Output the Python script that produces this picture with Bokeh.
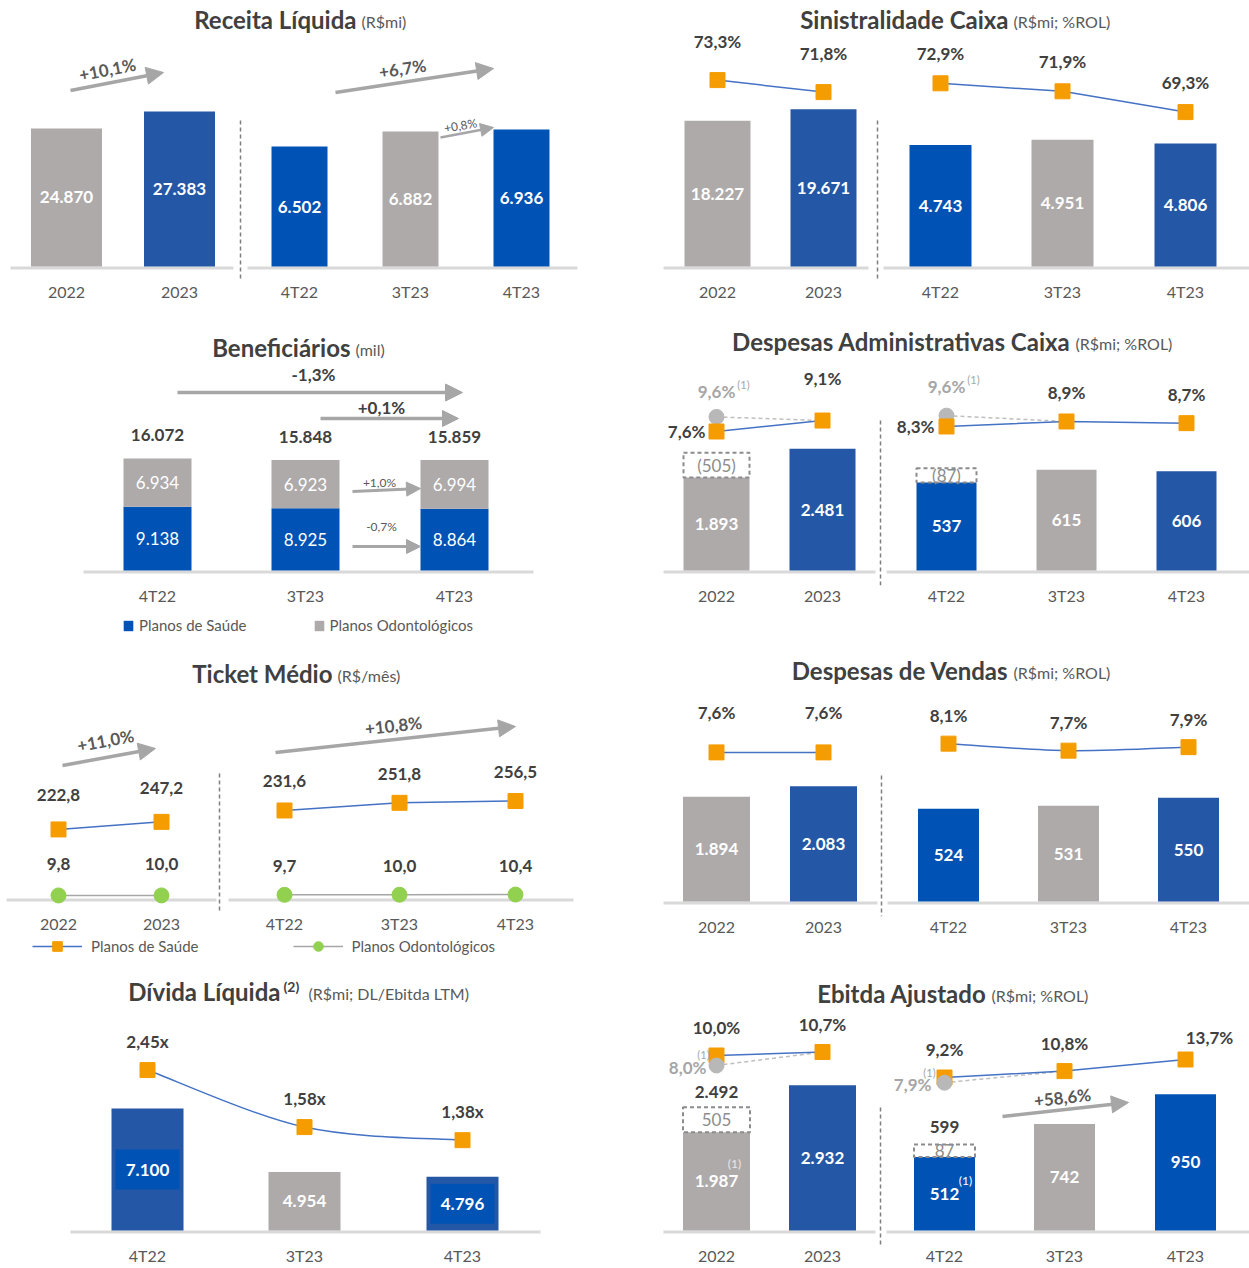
import math
from bokeh.plotting import figure
from bokeh.layouts import column, row
from bokeh.models import (Range1d, FixedTicker, Label, Arrow, NormalHead, Legend,
                          LegendItem, ColumnDataSource)
from bokeh.embed import file_html
from bokeh.resources import INLINE
from bokeh.core.properties import value

# ------------------------------------------------------------------ data
ANOS = ["2022", "2023"]
TRIMESTRES = ["4T22", "3T23", "4T23"]

receita_anual = [24870, 27383]
receita_trim = [6502, 6882, 6936]
receita_var = ["+10,1%", "+6,7%", "+0,8%"]

sinistro_anual = [18227, 19671]
sinistro_trim = [4743, 4951, 4806]
sinistro_pct_anual = [73.3, 71.8]
sinistro_pct_trim = [72.9, 71.9, 69.3]

benef_saude = [9138, 8925, 8864]
benef_odonto = [6934, 6923, 6994]
benef_total = [16072, 15848, 15859]
benef_var = ["-1,3%", "+0,1%", "+1,0%", "-0,7%"]
benef_series = ["Planos de Saúde", "Planos Odontológicos"]

adm_anual = [1893, 2481]
adm_trim = [537, 615, 606]
adm_ajuste_anual = [505]
adm_ajuste_trim = [87]
adm_pct_anual = [7.6, 9.1]
adm_pct_trim = [8.3, 8.9, 8.7]
adm_pct_ajust_anual = [9.6]
adm_pct_ajust_trim = [9.6]

ticket_saude_anual = [222.8, 247.2]
ticket_saude_trim = [231.6, 251.8, 256.5]
ticket_odonto_anual = [9.8, 10.0]
ticket_odonto_trim = [9.7, 10.0, 10.4]
ticket_var = ["+11,0%", "+10,8%"]

vendas_anual = [1894, 2083]
vendas_trim = [524, 531, 550]
vendas_pct_anual = [7.6, 7.6]
vendas_pct_trim = [8.1, 7.7, 7.9]

divida = [7100, 4954, 4796]
divida_alavancagem = [2.45, 1.58, 1.38]

ebitda_anual = [1987, 2932]
ebitda_trim = [512, 742, 950]
ebitda_ajuste_anual = [505]
ebitda_ajuste_trim = [87]
ebitda_total_ajust_anual = [2492]
ebitda_total_ajust_trim = [599]
ebitda_pct_anual = [10.0, 10.7]
ebitda_pct_trim = [9.2, 10.8, 13.7]
ebitda_pct_ajust_anual = [8.0]
ebitda_pct_ajust_trim = [7.9]
ebitda_var = ["+58,6%"]

# ------------------------------------------------------------------ style
FONT = "Lato"
C_DARK = "#404040"
C_AXIS = "#595959"
C_GRAY = "#aeaaaa"
C_BLUE_D = "#2457a5"
C_BLUE_B = "#0052b4"
C_ORANGE = "#f59c00"
C_LINE = "#4472c4"
C_BASE = "#d9d9d9"
C_GREEN = "#92d050"
C_ARROW = "#a6a6a6"
C_DOT = "#b8b8b8"
C_DIV = "#7f7f7f"
C_ADJ = "#8c8c8c"
C_LBLGRAY = "#a6a6a6"
LBL = 17   # bold data label size


def fmt_int(v):
    return f"{v:,.0f}".replace(",", ".")


def fmt_dec(v, d=1):
    return f"{v:.{d}f}".replace(".", ",")


def fmt_pct(v):
    return fmt_dec(v) + "%"


class Panel:
    def __init__(self, x0, top, w, h, base_ref, shift=0, b=15):
        self.x0 = x0
        self.base_ref = base_ref
        self.b = b
        self.fh = base_ref + shift - top + b
        self.v0 = {"default": 0}
        p = figure(width=w, height=h, x_range=Range1d(0, w),
                   y_range=Range1d(-b, self.fh - b),
                   output_backend="svg", toolbar_location=None, y_axis_location=None,
                   min_border_left=0, min_border_right=0, min_border_top=0,
                   min_border_bottom=h - self.fh, outline_line_color=None,
                   background_fill_color="white", border_fill_color="white")
        p.grid.grid_line_color = None
        self.p = p

    def X(self, xs):
        return [x - self.x0 for x in xs]

    def fy(self, y):
        return self.base_ref - y

    def scale(self, name, v0, k):
        self.v0[name] = v0
        self.p.extra_y_ranges[name] = Range1d(start=v0 - self.b / k,
                                              end=v0 + (self.fh - self.b) / k)

    def mid(self, vals, rname):
        return [(v + self.v0[rname]) / 2 for v in vals]

    def axis(self, xs, labels):
        ticks = self.X(xs)
        ov = {}
        for t, l in zip(ticks, labels):
            ov[t] = l
            ov[str(t)] = l
        ax = self.p.xaxis[0]
        ax.ticker = FixedTicker(ticks=ticks)
        ax.major_label_overrides = ov
        ax.axis_line_color = None
        ax.major_tick_line_color = None
        ax.minor_tick_line_color = None
        ax.major_tick_out = 0
        ax.major_tick_in = 0
        ax.minor_tick_out = 0
        ax.major_label_standoff = 0
        ax.major_label_text_font = FONT
        ax.major_label_text_font_size = "16px"
        ax.major_label_text_color = C_AXIS

    def baselines(self, spans):
        n = len(spans)
        self.p.segment(x0=self.X([a for a, _ in spans]), y0=[-1.5] * n,
                       x1=self.X([c for _, c in spans]), y1=[-1.5] * n,
                       line_color=C_BASE, line_width=3)

    def divider(self, x, top):
        self.p.segment(x0=self.X([x]), y0=[self.fy(top)], x1=self.X([x]), y1=[-self.b],
                       line_color=C_DIV, line_width=1.5, line_dash="4 3")

    def bars(self, xs, vals, width, colors, rname):
        src = ColumnDataSource(dict(x=self.X(xs), top=vals, c=colors))
        return self.p.vbar(x="x", top="top", bottom=self.v0[rname], width=width,
                           fill_color="c", line_color=None, source=src, y_range_name=rname)

    def adj_box(self, xs, base, extra, width, rname, labels):
        tops = [a + e for a, e in zip(base, extra)]
        self.p.vbar(x=self.X(xs), bottom=base, top=tops, width=width, fill_color=None,
                    line_color=C_ADJ, line_width=2, line_dash="4 3", y_range_name=rname)
        self.text(xs, [(a + t) / 2 for a, t in zip(base, tops)], labels, rname,
                  size=17, color="#8c8c8c", bold=False)

    def text(self, xs, ys, texts, rname="default", size=LBL, color=C_DARK, bold=True,
             align="center", dx=0, dy=0):
        src = ColumnDataSource(dict(x=self.X(xs), y=list(ys), t=list(texts)))
        self.p.text(x="x", y="y", text="t", source=src, y_range_name=rname,
                    text_font=value(FONT), text_font_size=f"{size}px",
                    text_font_style="bold" if bold else "normal", text_color=color,
                    text_align=align, text_baseline="middle", x_offset=dx, y_offset=dy)

    def bar_labels(self, xs, vals, rname, bold=True):
        self.text(xs, self.mid(vals, rname), [fmt_int(v) for v in vals], rname,
                  color="white", bold=bold)

    def series(self, xs, vals, rname, marker="square", color=C_ORANGE, line_color=C_LINE):
        lr = self.p.line(self.X(xs), vals, y_range_name=rname, line_color=line_color,
                         line_width=1.5)
        sr = self.p.scatter(self.X(xs), vals, y_range_name=rname, marker=marker, size=15,
                            fill_color=color, line_color=color)
        return lr, sr

    def dots(self, xs, vals, rname):
        self.p.scatter(self.X(xs), vals, y_range_name=rname, size=15,
                       fill_color=C_DOT, line_color=C_DOT)

    def arrow(self, x0, y0, x1, y1, width=3.5, head=17):
        self.p.add_layout(Arrow(x_start=x0 - self.x0, y_start=self.fy(y0),
                                x_end=x1 - self.x0, y_end=self.fy(y1),
                                line_color=C_ARROW, line_width=width,
                                end=NormalHead(size=head, fill_color=C_ARROW,
                                               line_color=C_ARROW)))

    def note(self, x, y, txt, angle_deg=0, size=17, bold=True, color=C_AXIS):
        self.p.add_layout(Label(x=x - self.x0, y=self.fy(y), text=txt,
                                angle=math.radians(angle_deg), text_align="center",
                                text_baseline="middle", text_font=FONT,
                                text_font_size=f"{size}px",
                                text_font_style="bold" if bold else "normal",
                                text_color=color))

    def title(self, split, y, bold_txt, normal_txt, sup=None):
        self.p.add_layout(Label(x=split - 2 - self.x0, y=self.fy(y), text=bold_txt,
                                text_align="right", text_baseline="middle", text_font=FONT,
                                text_font_size="24px", text_font_style="bold",
                                text_color=C_DARK))
        nx = split + 3
        if sup is not None:
            self.p.add_layout(Label(x=split + 1 - self.x0, y=self.fy(y - 5), text=sup,
                                    text_align="left", text_baseline="middle",
                                    text_font=FONT, text_font_size="14px",
                                    text_font_style="bold", text_color=C_DARK))
            nx = split + 26
        self.p.add_layout(Label(x=nx - self.x0, y=self.fy(y + 2), text=normal_txt,
                                text_align="left", text_baseline="middle", text_font=FONT,
                                text_font_size="16px", text_color=C_AXIS))


def legend_fig(w, h, entries, x, y, glyph_w, glyph_h, standoff, spacing):
    # key glyphs sit outside the visible range; only the legend shows them
    lf = figure(width=w, height=h, x_range=Range1d(0, 1), y_range=Range1d(0, 1),
                output_backend="svg", toolbar_location=None, x_axis_location=None,
                y_axis_location=None, min_border=0, outline_line_color=None,
                background_fill_color="white", border_fill_color="white")
    lf.grid.grid_line_color = None
    items = [LegendItem(label=lab, renderers=make(lf)) for lab, make in entries]
    lf.add_layout(Legend(items=items, orientation="horizontal", location=(x, y),
                         glyph_width=glyph_w, glyph_height=glyph_h, label_height=glyph_h,
                         label_standoff=standoff, spacing=spacing, padding=0, margin=0,
                         border_line_color=None, background_fill_alpha=0,
                         label_text_font=FONT, label_text_font_size="15px",
                         label_text_color=C_AXIS))
    return lf


def smooth(p, xs, ys, rname):
    pts = list(zip(xs, ys))
    n = len(pts)
    seg = dict(x0=[], y0=[], x1=[], y1=[], cx0=[], cy0=[], cx1=[], cy1=[])
    for i in range(n - 1):
        pm = pts[i - 1] if i > 0 else pts[i]
        a, c = pts[i], pts[i + 1]
        pn = pts[i + 2] if i + 2 < n else pts[i + 1]
        seg["x0"].append(a[0]); seg["y0"].append(a[1])
        seg["x1"].append(c[0]); seg["y1"].append(c[1])
        seg["cx0"].append(a[0] + (c[0] - pm[0]) / 6); seg["cy0"].append(a[1] + (c[1] - pm[1]) / 6)
        seg["cx1"].append(c[0] - (pn[0] - a[0]) / 6); seg["cy1"].append(c[1] - (pn[1] - a[1]) / 6)
    p.bezier(source=ColumnDataSource(seg), x0="x0", y0="y0", x1="x1", y1="y1",
             cx0="cx0", cy0="cy0", cx1="cx1", cy1="cy1", y_range_name=rname,
             line_color=C_LINE, line_width=1.5)


X_L, X_R = 0, 624
W_L, W_R = 624, 625
ROW_T = [0, 318, 650, 970]
ROW_H = [318, 332, 320, 298]
LEG3_H, LEG5_H = 40, 34
SHIFT4 = -6
OFF = [5, 6]   # legend key glyphs placed outside the visible range

# ------------------------------------------------ 1. Receita Liquida
P1 = Panel(X_L, ROW_T[0], W_L, ROW_H[0], 266)
P1.scale("a", 4470, 0.00677)
P1.scale("q", 3441, 0.0392)
xa, xq = [66, 179], [299, 410, 521]
P1.baselines([(10, 233), (247, 577)])
P1.divider(240, 120)
P1.bars(xa, receita_anual, 71, [C_GRAY, C_BLUE_D], "a")
P1.bars(xq, receita_trim, 56, [C_BLUE_B, C_GRAY, C_BLUE_B], "q")
P1.bar_labels(xa, receita_anual, "a")
P1.bar_labels(xq, receita_trim, "q")
P1.arrow(70, 90, 163, 72)
P1.note(107, 69, receita_var[0], 11)
P1.arrow(335, 92, 493, 68)
P1.note(402, 68, receita_var[1], 8.6)
P1.arrow(440, 137, 493, 127, width=2.5, head=13)
P1.note(460, 125, receita_var[2], 10, size=12, bold=False)
P1.axis(xa + xq, ANOS + TRIMESTRES)
P1.title(358, 19, "Receita Líquida", "(R$mi)")

# ------------------------------------------------ 2. Sinistralidade
P2 = Panel(X_R, ROW_T[0], W_R, ROW_H[0], 266)
P2.scale("a", 0, 0.008)
P2.scale("q", 0, 0.0256)
P2.scale("l", 50, 8)
xa, xq = [717, 823], [940, 1062, 1185]
P2.baselines([(663, 868), (883, 1249)])
P2.divider(877, 120)
P2.bars(xa, sinistro_anual, 66, [C_GRAY, C_BLUE_D], "a")
P2.bars(xq, sinistro_trim, 62, [C_BLUE_B, C_GRAY, C_BLUE_D], "q")
P2.bar_labels(xa, sinistro_anual, "a")
P2.bar_labels(xq, sinistro_trim, "q")
P2.series(xa, sinistro_pct_anual, "l")
P2.series(xq, sinistro_pct_trim, "l")
P2.text(xa, sinistro_pct_anual, [fmt_pct(v) for v in sinistro_pct_anual], "l", dy=-39)
P2.text(xq, sinistro_pct_trim, [fmt_pct(v) for v in sinistro_pct_trim], "l", dy=-30)
P2.axis(xa + xq, ANOS + TRIMESTRES)
P2.title(1010, 19, "Sinistralidade Caixa", "(R$mi; %ROL)")

# ------------------------------------------------ 3. Beneficiarios
P3 = Panel(X_L, ROW_T[1], W_L, ROW_H[1] - LEG3_H, 570)
P3.scale("s", 0, 0.00697)
xs = [157, 305, 454]
P3.baselines([(83, 533)])
src3 = ColumnDataSource(dict(x=P3.X(xs), saude=benef_saude, odonto=benef_odonto))
rs = P3.p.vbar_stack(["saude", "odonto"], x="x", width=68, fill_color=[C_BLUE_B, C_GRAY],
                     line_color=None, source=src3, y_range_name="s")
P3.text(xs, [v / 2 for v in benef_saude], [fmt_int(v) for v in benef_saude], "s",
        size=17, color="white", bold=False)
P3.text(xs, [s + o / 2 for s, o in zip(benef_saude, benef_odonto)],
        [fmt_int(v) for v in benef_odonto], "s", size=17, color="white", bold=False)
P3.text(xs, benef_total, [fmt_int(v) for v in benef_total], "s", dy=-23)
P3.arrow(177, 392, 462, 392)
P3.note(313, 374, benef_var[0], color=C_DARK)
P3.arrow(320, 418, 458, 418, head=16)
P3.note(381, 407, benef_var[1], color=C_DARK)
P3.arrow(352, 491, 420, 488, width=3, head=14)
P3.note(379, 482, benef_var[2], size=12, bold=False)
P3.arrow(352, 546, 420, 546, width=3, head=14)
P3.note(381, 526, benef_var[3], size=12, bold=False)
P3.axis(xs, TRIMESTRES)
P3.title(352, 347, "Beneficiários", "(mil)")
L3 = legend_fig(W_L, LEG3_H, [
    (benef_series[0], lambda f: [f.vbar(x=OFF[:1], top=OFF[1:], width=0.5,
                                        fill_color=C_BLUE_B, line_color=None)]),
    (benef_series[1], lambda f: [f.vbar(x=OFF[:1], top=OFF[1:], width=0.5,
                                        fill_color=C_GRAY, line_color=None)]),
], x=122, y=16, glyph_w=12, glyph_h=13, standoff=5, spacing=66)

# ------------------------------------------------ 4. Despesas Administrativas
P4 = Panel(X_R, ROW_T[1], W_R, ROW_H[1], 570)
P4.scale("a", 0, 0.0491)
P4.scale("q", 0, 0.1639)
P4.scale("la", -11.44, 7.3)
P4.scale("lq", -8.99, 8.33)
xa, xq = [716, 822], [946, 1066, 1186]
P4.baselines([(663, 875), (886, 1249)])
P4.divider(880, 420)
P4.bars(xa, adm_anual, 66, [C_GRAY, C_BLUE_D], "a")
P4.bars(xq, adm_trim, 60, [C_BLUE_B, C_GRAY, C_BLUE_D], "q")
P4.bar_labels(xa, adm_anual, "a")
P4.bar_labels(xq, adm_trim, "q")
P4.adj_box(xa[:1], adm_anual[:1], adm_ajuste_anual, 66, "a",
           [f"({fmt_int(v)})" for v in adm_ajuste_anual])
P4.adj_box(xq[:1], adm_trim[:1], adm_ajuste_trim, 60, "q",
           [f"({fmt_int(v)})" for v in adm_ajuste_trim])
P4.p.line(P4.X(xa), [adm_pct_ajust_anual[0], adm_pct_anual[1]], y_range_name="la",
          line_color="#bfbfbf", line_width=1.5, line_dash="4 3")
P4.p.line(P4.X(xq[:2]), [adm_pct_ajust_trim[0], adm_pct_trim[1]], y_range_name="lq",
          line_color="#bfbfbf", line_width=1.5, line_dash="4 3")
P4.dots(xa[:1], adm_pct_ajust_anual, "la")
P4.dots(xq[:1], adm_pct_ajust_trim, "lq")
P4.series(xa, adm_pct_anual, "la")
P4.series(xq, adm_pct_trim, "lq")
P4.text(xa[1:], adm_pct_anual[1:], [fmt_pct(v) for v in adm_pct_anual[1:]], "la", dy=-42)
P4.text(xq[1:], adm_pct_trim[1:], [fmt_pct(v) for v in adm_pct_trim[1:]], "lq", dy=-29)
P4.text(xa[:1], adm_pct_anual[:1], [fmt_pct(adm_pct_anual[0])], "la", align="right", dx=-11)
P4.text(xq[:1], adm_pct_trim[:1], [fmt_pct(adm_pct_trim[0])], "lq", align="right", dx=-12)
P4.text(xa[:1], adm_pct_ajust_anual, [fmt_pct(v) for v in adm_pct_ajust_anual], "la",
        color=C_LBLGRAY, dy=-25)
P4.text(xa[:1], adm_pct_ajust_anual, ["(1)"], "la", size=11, bold=False, color=C_LBLGRAY,
        dx=27, dy=-32)
P4.text(xq[:1], adm_pct_ajust_trim, [fmt_pct(v) for v in adm_pct_ajust_trim], "lq",
        color=C_LBLGRAY, dy=-29)
P4.text(xq[:1], adm_pct_ajust_trim, ["(1)"], "lq", size=11, bold=False, color=C_LBLGRAY,
        dx=27, dy=-36)
P4.axis(xa + xq, ANOS + TRIMESTRES)
P4.title(1072, 341, "Despesas Administrativas Caixa", "(R$mi; %ROL)")

# ------------------------------------------------ 5. Ticket Medio
P5 = Panel(X_L, ROW_T[2], W_L, ROW_H[2] - LEG5_H, 898)
P5.scale("la", 0, 0.31)
P5.scale("lq", 0, 0.38)
xa, xq = [58, 161], [284, 399, 515]
P5.baselines([(6, 216), (228, 573)])
P5.divider(219, 773)
P5.series(xa, ticket_odonto_anual, "la", marker="circle", color=C_GREEN, line_color=C_ARROW)
P5.series(xq, ticket_odonto_trim, "lq", marker="circle", color=C_GREEN, line_color=C_ARROW)
P5.series(xa, ticket_saude_anual, "la")
P5.series(xq, ticket_saude_trim, "lq")
P5.text(xa, ticket_saude_anual, [fmt_dec(v) for v in ticket_saude_anual], "la", dy=-34)
P5.text(xq, ticket_saude_trim, [fmt_dec(v) for v in ticket_saude_trim], "lq", dy=-29)
P5.text(xa, ticket_odonto_anual, [fmt_dec(v) for v in ticket_odonto_anual], "la", dy=-31)
P5.text(xq, ticket_odonto_trim, [fmt_dec(v) for v in ticket_odonto_trim], "lq", dy=-29)
P5.arrow(62, 765, 155, 748)
P5.note(105, 740, ticket_var[0], 10.4)
P5.arrow(275, 752, 515, 726)
P5.note(393, 725, ticket_var[1], 6.2)
P5.axis(xa + xq, ANOS + TRIMESTRES)
P5.title(334, 673, "Ticket Médio", "(R$/mês)")
L5 = legend_fig(W_L, LEG5_H, [
    (benef_series[0], lambda f: [f.line(OFF, OFF, line_color=C_LINE, line_width=1.5),
                                 f.scatter(OFF, OFF, marker="square", size=15,
                                           fill_color=C_ORANGE, line_color=C_ORANGE)]),
    (benef_series[1], lambda f: [f.line(OFF, OFF, line_color=C_ARROW, line_width=1.5),
                                 f.scatter(OFF, OFF, marker="circle", size=15,
                                           fill_color=C_GREEN, line_color=C_GREEN)]),
], x=32, y=12, glyph_w=50, glyph_h=24, standoff=9, spacing=94)

# ------------------------------------------------ 6. Despesas de Vendas
P6 = Panel(X_R, ROW_T[2], W_R, ROW_H[2], 901)
P6.scale("a", 0, 0.0553)
P6.scale("q", 303, 0.42)
P6.scale("l", -0.92, 17.5)
xa, xq = [716, 823], [948, 1068, 1188]
P6.baselines([(663, 877), (887, 1249)])
P6.divider(881, 775)
P6.bars(xa, vendas_anual, 67, [C_GRAY, C_BLUE_D], "a")
P6.bars(xq, vendas_trim, 61, [C_BLUE_B, C_GRAY, C_BLUE_D], "q")
P6.bar_labels(xa, vendas_anual, "a")
P6.bar_labels(xq, vendas_trim, "q")
P6.series(xa, vendas_pct_anual, "l")
smooth(P6.p, P6.X(xq), vendas_pct_trim, "l")
P6.p.scatter(P6.X(xq), vendas_pct_trim, y_range_name="l", marker="square", size=15,
             fill_color=C_ORANGE, line_color=C_ORANGE)
P6.text(xa, vendas_pct_anual, [fmt_pct(v) for v in vendas_pct_anual], "l", dy=-40)
P6.text(xq, vendas_pct_trim, [fmt_pct(v) for v in vendas_pct_trim], "l", dy=-28)
P6.axis(xa + xq, ANOS + TRIMESTRES)
P6.title(1010, 670, "Despesas de Vendas", "(R$mi; %ROL)")

# ------------------------------------------------ 7. Divida Liquida
P7 = Panel(X_L, ROW_T[3], W_L, ROW_H[3], 1238, shift=SHIFT4)
P7.scale("d", 2972, 0.0298)
P7.scale("l", 0, 66)
xs = [147, 304, 462]
BOXED = [0, 2]
P7.baselines([(70, 540)])
P7.bars(xs, divida, 72, [C_BLUE_D, C_GRAY, C_BLUE_D], "d")
mids = P7.mid(divida, "d")
P7.p.rect(x=P7.X([xs[i] for i in BOXED]), y=[mids[i] for i in BOXED], width=64, height=40,
          width_units="screen", height_units="screen", fill_color=C_BLUE_B, line_color=None,
          y_range_name="d")
P7.bar_labels(xs, divida, "d")
smooth(P7.p, P7.X(xs), divida_alavancagem, "l")
P7.p.scatter(P7.X(xs), divida_alavancagem, y_range_name="l", marker="square", size=15,
             fill_color=C_ORANGE, line_color=C_ORANGE)
P7.text(xs, divida_alavancagem, [fmt_dec(v, 2) + "x" for v in divida_alavancagem], "l",
        dy=-29)
P7.axis(xs, TRIMESTRES)
P7.title(282, 997, "Dívida Líquida", "(R$mi; DL/Ebitda LTM)", sup="(2)")

# ------------------------------------------------ 8. Ebitda Ajustado
P8 = Panel(X_R, ROW_T[3], W_R, ROW_H[3], 1236, shift=SHIFT4)
P8.scale("a", 0, 0.0495)
P8.scale("q", 0, 0.1435)
P8.scale("la", -25, 5)
P8.scale("lq", -29.05, 4)
xa, xq = [716, 822], [944, 1064, 1185]
P8.baselines([(663, 875), (886, 1249)])
P8.divider(880, 1113)
P8.bars(xa, ebitda_anual, 67, [C_GRAY, C_BLUE_D], "a")
P8.bars(xq, ebitda_trim, 61, [C_BLUE_B, C_GRAY, C_BLUE_B], "q")
P8.bar_labels(xa, ebitda_anual, "a")
P8.bar_labels(xq, ebitda_trim, "q")
P8.text(xa[:1], P8.mid(ebitda_anual[:1], "a"), ["(1)"], "a", size=12, bold=False,
        color="#e8e8e8", dx=18, dy=-18)
P8.text(xq[:1], P8.mid(ebitda_trim[:1], "q"), ["(1)"], "q", size=12, bold=False,
        color="white", dx=21, dy=-13)
P8.adj_box(xa[:1], ebitda_anual[:1], ebitda_ajuste_anual, 67, "a",
           [fmt_int(v) for v in ebitda_ajuste_anual])
P8.adj_box(xq[:1], ebitda_trim[:1], ebitda_ajuste_trim, 61, "q",
           [fmt_int(v) for v in ebitda_ajuste_trim])
P8.text(xa[:1], ebitda_total_ajust_anual, [fmt_int(v) for v in ebitda_total_ajust_anual],
        "a", dy=-15)
P8.text(xq[:1], ebitda_total_ajust_trim, [fmt_int(v) for v in ebitda_total_ajust_trim],
        "q", dy=-18)
P8.p.line(P8.X(xa), [ebitda_pct_ajust_anual[0], ebitda_pct_anual[1]], y_range_name="la",
          line_color="#bfbfbf", line_width=1.5, line_dash="4 3")
P8.p.line(P8.X(xq[:2]), [ebitda_pct_ajust_trim[0], ebitda_pct_trim[1]], y_range_name="lq",
          line_color="#bfbfbf", line_width=1.5, line_dash="4 3")
P8.series(xa, ebitda_pct_anual, "la")
P8.series(xq, ebitda_pct_trim, "lq")
P8.dots(xa[:1], ebitda_pct_ajust_anual, "la")
P8.dots(xq[:1], ebitda_pct_ajust_trim, "lq")
P8.text(xa, ebitda_pct_anual, [fmt_pct(v) for v in ebitda_pct_anual], "la", dy=-28)
P8.text(xq[:2], ebitda_pct_trim[:2], [fmt_pct(v) for v in ebitda_pct_trim[:2]], "lq", dy=-28)
P8.text(xq[2:], ebitda_pct_trim[2:], [fmt_pct(v) for v in ebitda_pct_trim[2:]], "lq",
        dy=-22, dx=24)
P8.text(xa[:1], ebitda_pct_ajust_anual, [fmt_pct(v) for v in ebitda_pct_ajust_anual], "la",
        color=C_LBLGRAY, align="right", dx=-10, dy=2)
P8.text(xa[:1], ebitda_pct_ajust_anual, ["(1)"], "la", size=11, bold=False,
        color=C_LBLGRAY, dx=-13, dy=-11)
P8.text(xq[:1], ebitda_pct_ajust_trim, [fmt_pct(v) for v in ebitda_pct_ajust_trim], "lq",
        color=C_LBLGRAY, align="right", dx=-13, dy=2)
P8.text(xq[:1], ebitda_pct_ajust_trim, ["(1)"], "lq", size=11, bold=False,
        color=C_LBLGRAY, dx=-15, dy=-10)
P8.arrow(1002, 1122, 1128, 1108)
P8.note(1062, 1103, ebitda_var[0], 6.3)
P8.axis(xa + xq, ANOS + TRIMESTRES)
P8.title(988, 999, "Ebitda Ajustado", "(R$mi; %ROL)")

layout = column(row(P1.p, P2.p),
                row(column(P3.p, L3), P4.p),
                row(column(P5.p, L5), P6.p),
                row(P7.p, P8.p))
open("out.html", "w").write(file_html(layout, INLINE, title="Indicadores"))
